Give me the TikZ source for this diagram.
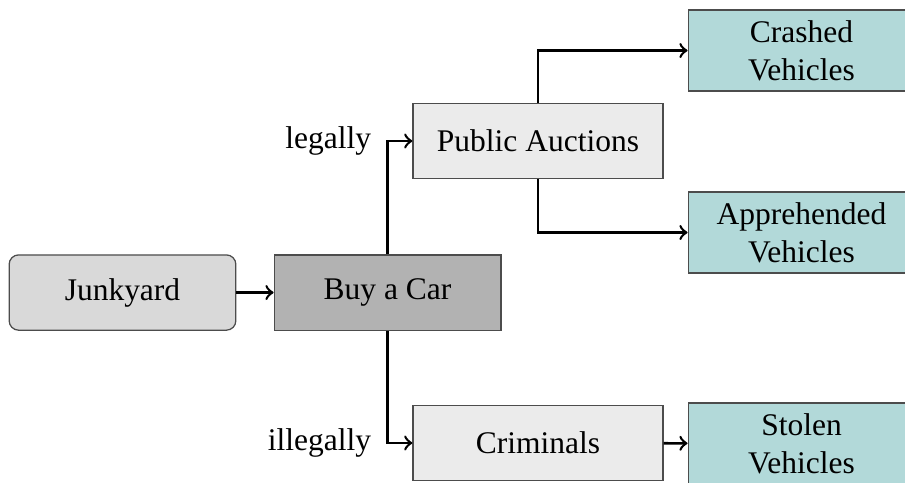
\documentclass[tikz,border=0pt]{standalone}
\usepackage{fontspec}
\setmainfont{Liberation Serif}
\usetikzlibrary{arrows,positioning}

\begin{document}
\begin{tikzpicture}[
font=\normalsize,
box/.style={draw=black!70, minimum width=2.53cm, minimum height=0.84cm, align=center},
flow/.style={->,thick,>=to}
]
    % Draw frame
    \useasboundingbox (0,0) rectangle (10.1,-5.38);
    \clip (0,0) rectangle (10.1,-5.38);

    \node (junkyard) [box, rounded corners=3pt, fill=gray!30] at (1.367,-3.265) {Junkyard};
    \node (buy) [box, fill=gray!60] at (4.325,-3.265) {Buy a Car};

    \node (auctions) [box, minimum width=2.79cm, fill=gray!16] at (6.004,-1.574) {Public Auctions};
    \node (criminals) [box, minimum width=2.79cm, fill=gray!16] at (6.004,-4.944) {Criminals};

    \node (crashed) [box, fill=teal!30] at (8.945,-0.564) {Crashed\\Vehicles};
    \node (apprehended) [box, fill=teal!30] at (8.945,-2.595) {Apprehended\\Vehicles};
    \node (stolen) [box, fill=teal!30] at (8.945,-4.95) {Stolen\\Vehicles};

    % Draw arrows
    \draw[flow] (junkyard) -- (buy);
    \draw[flow] (buy.north) |- node[pos=0.5, left=1.5pt] (legally) {legally} (auctions.west);
    \draw[flow] (buy.south) |- node[pos=0.5, left=1.5pt] (illegally) {illegally} (criminals.west);

    \draw[flow] (auctions.north) |- (crashed.west);
    \draw[flow] (auctions.south) |- (apprehended.west);
    \draw[flow] (criminals) -- (stolen);

\end{tikzpicture}
\end{document}
